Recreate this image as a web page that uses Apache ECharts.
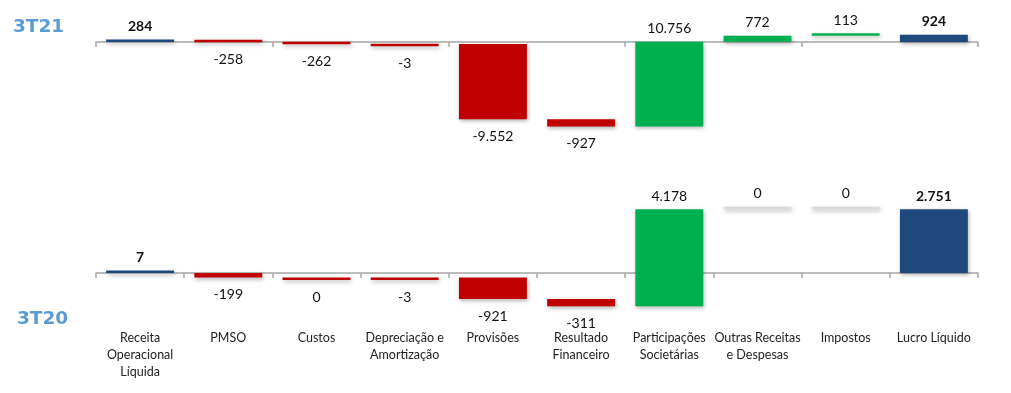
<!DOCTYPE html>
<html>
<head>
<meta charset="utf-8">
<script src="https://cdn.jsdelivr.net/npm/echarts@6/dist/echarts.min.js"></script>
<style>
html,body{margin:0;padding:0;background:#fff;}
#chart{width:1011px;height:393px;}
</style>
</head>
<body>
<div id="chart"></div>
<script>
const categories = [
  'Receita\nOperacional\nLíquida', 'PMSO', 'Custos', 'Depreciação e\nAmortização',
  'Provisões', 'Resultado\nFinanceiro', 'Participações\nSocietárias',
  'Outras Receitas\ne Despesas', 'Impostos', 'Lucro Líquido'
];
const periods = ['3T21', '3T20'];
const values3T21 = [284, -258, -262, -3, -9552, -927, 10756, 772, 113, 924];
const values3T20 = [7, -199, 0, -3, -921, -311, 4178, 0, 0, 2751];
// first and last categories are totals; indices 1..5 are expense items
const isTotal = [true, false, false, false, false, false, false, false, false, true];
const isExpense = [false, true, true, true, true, true, false, false, false, false];

const COLORS = {total: '#1f497d', neg: '#c00000', pos: '#00b050', zero: '#d9d9d9'};
const FONT = 'Lato, "Open Sans", sans-serif';

function fmt(v) {
  const s = Math.abs(v).toString().replace(/\B(?=(\d{3})+(?!\d))/g, '.');
  return (v < 0 ? '-' : '') + s;
}

function buildData(vals) {
  let cum = 0;
  return vals.map((v, i) => {
    let start, end;
    if (isTotal[i]) { start = 0; end = v; cum = v; }
    else { start = cum; end = cum + v; cum = end; }
    return [i, start, end, v];
  });
}

function renderItem(params, api) {
  const i = api.value(0), start = api.value(1), end = api.value(2), v = api.value(3);
  const p1 = api.coord([i, start]);
  const p2 = api.coord([i, end]);
  const bw = api.size([1, 0])[0] * 0.77;
  let top = Math.min(p1[1], p2[1]);
  let bot = Math.max(p1[1], p2[1]);
  const negLike = v < 0 || (v === 0 && isExpense[i]);
  let color;
  if (isTotal[i]) color = COLORS.total;
  else if (v === 0 && !isExpense[i]) color = COLORS.zero;
  else if (negLike) color = COLORS.neg;
  else color = COLORS.pos;
  if (bot - top < 2.5) {
    if (negLike) bot = top + 2.5; else top = bot - 2.5;
  }
  const x = p1[0] - bw / 2;
  const labelY = negLike ? bot + 17 : top - 13;
  return {
    type: 'group',
    children: [
      {
        type: 'rect',
        shape: {x: x, y: top, width: bw, height: bot - top},
        style: {
          fill: color,
          shadowBlur: 4, shadowOffsetX: 1, shadowOffsetY: 2,
          shadowColor: 'rgba(0,0,0,0.3)'
        }
      },
      {
        type: 'text',
        style: {
          text: fmt(v), x: p1[0], y: labelY,
          align: 'center', verticalAlign: 'middle',
          fill: '#111', fontSize: 14, fontFamily: FONT,
          fontWeight: isTotal[i] ? 'bold' : 'normal'
        }
      }
    ]
  };
}

const axisStyle = {color: '#a6a6a6', width: 1.5};
const titleStyle = {color: '#5b9bd5', fontSize: 18.5, fontWeight: 'bold', fontFamily: '"DejaVu Sans", sans-serif'};

const chart = echarts.init(document.getElementById('chart'), null, {renderer: 'canvas'});
chart.setOption({
  backgroundColor: '#fff',
  animation: false,
  title: [
    {text: periods[0], left: 13, top: 18, padding: 0, textStyle: titleStyle},
    {text: periods[1], left: 17, top: 310, padding: 0, textStyle: titleStyle}
  ],
  grid: [
    {left: 96, right: 33, top: 10.5, height: 130, outerBoundsMode: 'none', containLabel: false},
    {left: 96, right: 33, top: 203.5, height: 116, outerBoundsMode: 'none', containLabel: false}
  ],
  xAxis: [0, 1].map(g => ({
    type: 'category', gridIndex: g, data: categories,
    axisLine: {show: true, onZero: true, lineStyle: axisStyle},
    axisTick: {show: true, length: 5, lineStyle: axisStyle},
    axisLabel: g === 1 ? {
      show: true, margin: 10, interval: 0, color: '#222',
      fontSize: 12.5, lineHeight: 17, fontFamily: FONT, verticalAlign: 'top'
    } : {show: false},
    splitLine: {show: false}
  })),
  yAxis: [
    {type: 'value', gridIndex: 0, min: -12500, max: 4000, show: false, splitLine: {show: false}},
    {type: 'value', gridIndex: 1, min: -2000, max: 3000, show: false, splitLine: {show: false}}
  ],
  series: [
    {type: 'custom', xAxisIndex: 0, yAxisIndex: 0, renderItem: renderItem,
     data: buildData(values3T21), clip: false},
    {type: 'custom', xAxisIndex: 1, yAxisIndex: 1, renderItem: renderItem,
     data: buildData(values3T20), clip: false}
  ]
});
</script>
</body>
</html>
